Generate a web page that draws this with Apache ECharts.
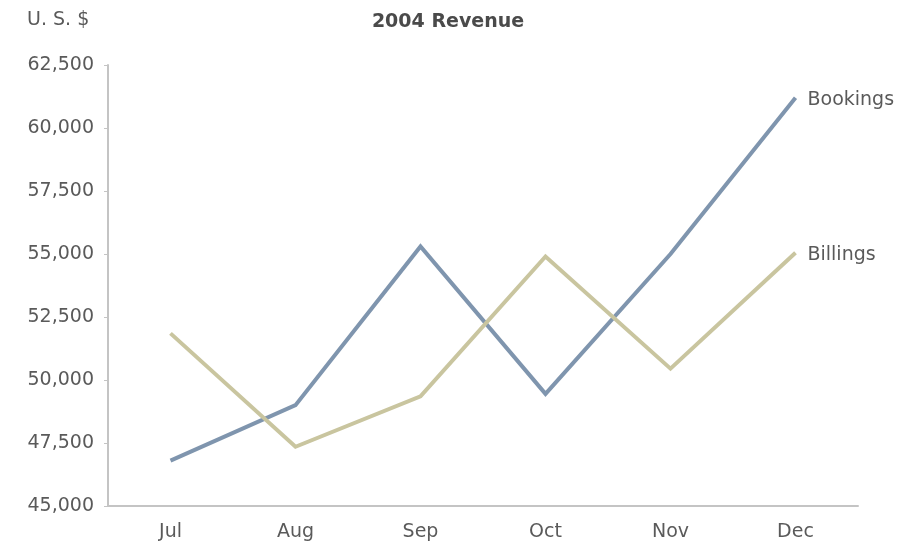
<!DOCTYPE html>
<html>
<head>
<meta charset="utf-8">
<script src="https://cdn.jsdelivr.net/npm/echarts@6/dist/echarts.min.js"></script>
<style>
  html, body { margin: 0; padding: 0; background: #fff; }
  #chart { width: 913px; height: 550px; }
</style>
</head>
<body>
<div id="chart"></div>
<script>
// 2004 monthly revenue, U.S. dollars
const months = ['Jul', 'Aug', 'Sep', 'Oct', 'Nov', 'Dec'];
const bookings = [46800, 49000, 55300, 49450, 55000, 61200];
const billings = [51850, 47350, 49350, 54900, 50450, 55050];
const yMin = 45000;
const yMax = 62500;
const yStep = 2500;

const textColor = '#5a5a5a';
const font = '"DejaVu Sans", Verdana, sans-serif';

const chart = echarts.init(document.getElementById('chart'), null, { renderer: 'canvas' });

function lineSeries(name, values, color) {
  return {
    name: name,
    type: 'line',
    data: values,
    symbol: 'none',
    lineStyle: { color: color, width: 4, join: 'miter' },
    itemStyle: { color: color },
    endLabel: {
      show: true,
      formatter: '{a}',
      distance: 12,
      offset: [0, 2],
      color: textColor,
      fontSize: 19,
      fontFamily: font
    },
    animation: false
  };
}

chart.setOption({
  backgroundColor: '#ffffff',
  animation: false,
  title: [
    {
      text: '2004 Revenue',
      left: 443,
      top: 8,
      textAlign: 'center',
      textStyle: { fontSize: 19, fontWeight: 'bold', color: '#4a4a4a', fontFamily: font }
    },
    {
      text: 'U. S. $',
      left: 22,
      top: 6,
      textStyle: { fontSize: 19, fontWeight: 'normal', color: textColor, fontFamily: font }
    }
  ],
  grid: { left: 108, right: 55, top: 65, bottom: 44, containLabel: false },
  xAxis: {
    type: 'category',
    data: months,
    boundaryGap: true,
    axisLine: { lineStyle: { color: '#c4c4c4', width: 2 } },
    axisTick: { show: false },
    axisLabel: { color: textColor, fontSize: 19, fontFamily: font, margin: 17 },
    splitLine: { show: false }
  },
  yAxis: {
    type: 'value',
    min: yMin,
    max: yMax,
    interval: yStep,
    axisLine: { show: true, lineStyle: { color: '#c4c4c4', width: 2 } },
    axisTick: { show: true, length: 4, lineStyle: { color: '#c4c4c4' } },
    axisLabel: {
      color: textColor,
      fontSize: 19,
      fontFamily: font,
      margin: 14,
      formatter: v => v.toLocaleString('en-US')
    },
    splitLine: { show: false }
  },
  series: [
    lineSeries('Bookings', bookings, '#7f95ae'),
    lineSeries('Billings', billings, '#c9c59f')
  ]
});
</script>
</body>
</html>
